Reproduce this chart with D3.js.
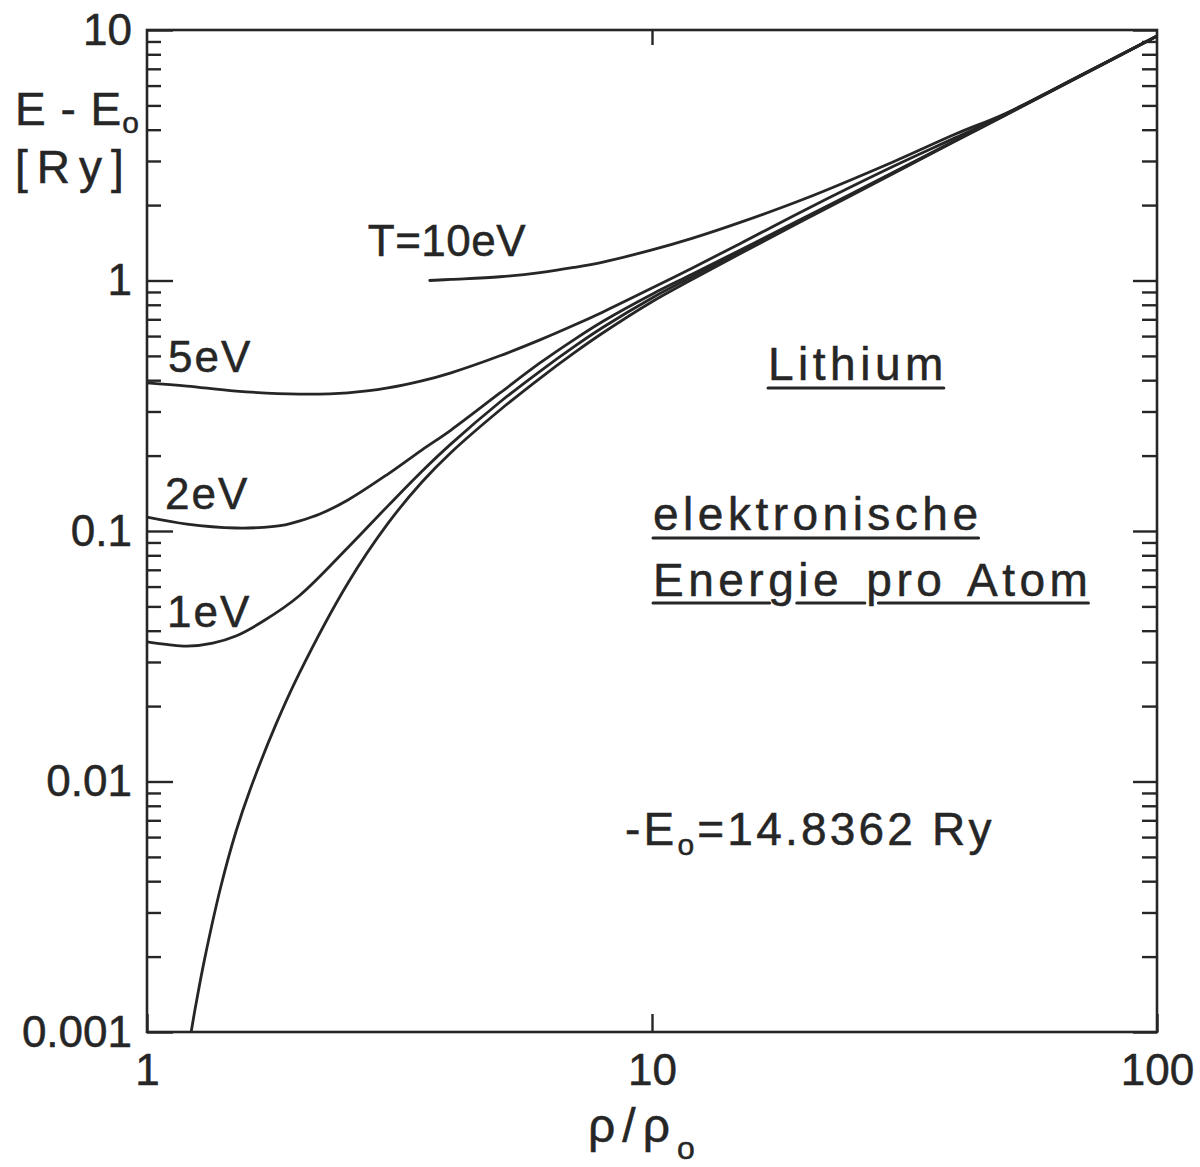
<!DOCTYPE html>
<html>
<head>
<meta charset="utf-8">
<script src="https://cdn.jsdelivr.net/npm/d3@7"></script>
<style>
  html, body { margin: 0; padding: 0; background: #ffffff; }
  svg { display: block; }
  text { font-family: "Liberation Sans", Arial, sans-serif; fill: #262626; stroke: #262626; stroke-width: 0.5px; }
</style>
</head>
<body>
<svg id="chart" width="1200" height="1167"></svg>
<script>
// Electronic energy per atom of lithium, E − E0 in Ry, versus compression ρ/ρ0
const rhoT0    = [1.223, 1.25, 1.3, 1.4, 1.5, 1.6, 1.8, 2, 2.5, 3, 3.5, 4, 5, 6, 7, 8, 10, 12, 15, 20, 30, 40, 50, 70, 100];
const energyT0 = [0.001, 0.00129, 0.00195, 0.0038, 0.0063, 0.00927, 0.0169, 0.0269, 0.062, 0.1072, 0.1565, 0.2058, 0.3041, 0.4071, 0.5129, 0.6184, 0.8228, 1.009, 1.285, 1.742, 2.667, 3.609, 4.56, 6.492, 9.44];

const rho1eV    = [1, 1.1, 1.2, 1.35, 1.5, 1.7, 2, 2.5, 3, 3.5, 4, 5, 6, 7, 8, 10, 12, 15, 20, 30, 40, 50, 70, 100];
const energy1eV = [0.0361, 0.0352, 0.0347, 0.0357, 0.0381, 0.0437, 0.055, 0.0859, 0.126, 0.1729, 0.2228, 0.3273, 0.4342, 0.5434, 0.6507, 0.8518, 1.035, 1.308, 1.762, 2.685, 3.626, 4.576, 6.507, 9.45];

const rho2eV    = [1, 1.2, 1.5, 1.7, 1.85, 2, 2.2, 2.5, 3, 3.5, 4, 5, 6, 7, 8, 10, 12, 15, 20, 30, 40, 50, 70, 100];
const energy2eV = [0.1137, 0.1066, 0.1028, 0.1034, 0.1052, 0.1095, 0.1169, 0.133, 0.1688, 0.2105, 0.253, 0.3556, 0.4685, 0.5797, 0.6876, 0.8817, 1.059, 1.327, 1.779, 2.698, 3.634, 4.581, 6.515, 9.46];

const rho5eV    = [1, 1.2, 1.5, 2, 2.5, 3, 3.5, 4, 5, 6, 7, 8, 10, 12, 15, 20, 30, 40, 50, 70, 100];
const energy5eV = [0.39, 0.379, 0.362, 0.352, 0.356, 0.3725, 0.3973, 0.4281, 0.5006, 0.5793, 0.6625, 0.7493, 0.933, 1.12, 1.409, 1.905, 2.851, 3.727, 4.603, 6.522, 9.462];

const rho10eV    = [3.63, 4, 5, 6, 7, 8, 10, 12, 15, 20, 30, 40, 50, 70, 100];
const energy10eV = [1.0, 1.01, 1.035, 1.075, 1.127, 1.185, 1.325, 1.473, 1.71, 2.115, 2.974, 3.853, 4.634, 6.537, 9.473];

const curveNames = ["T=10eV", "5eV", "2eV", "1eV", "T=0"];

const yMajorTicks = [0.001, 0.01, 0.1, 1, 10];
const yTickLabels = ["0.001", "0.01", "0.1", "1", "10"];
const xMajorTicks = [1, 10, 100];
const xTickLabels = ["1", "10", "100"];

const ink = "#262626";
const W = 1200, H = 1167;
const margin = { top: 30, right: 43, bottom: 135, left: 147 };
const plotW = W - margin.left - margin.right;
const plotH = H - margin.top - margin.bottom;

const svg = d3.select("#chart");
const g = svg.append("g").attr("transform", `translate(${margin.left},${margin.top})`);

const x = d3.scaleLog().domain([1, 100]).range([0, plotW]);
const y = d3.scaleLog().domain([0.001, 10]).range([plotH, 0]);

const isMajor = v => Math.abs(Math.log10(v) - Math.round(Math.log10(v))) < 1e-6;
const yMinorTicks = y.ticks().filter(v => !isMajor(v));

function styleAxis(sel) {
  sel.select(".domain").remove();
  sel.selectAll(".tick line").attr("stroke", ink).attr("stroke-width", 2.4);
  sel.selectAll(".tick text")
    .style("font-family", '"Liberation Sans", Arial, sans-serif')
    .style("font-size", "44px")
    .attr("fill", ink);
}

// left axis: long ticks with labels at decades, short ticks in between
g.append("g")
  .call(d3.axisLeft(y).tickValues(yMajorTicks).tickSize(-26).tickPadding(15)
        .tickFormat((d, i) => yTickLabels[i]))
  .call(styleAxis);
g.append("g")
  .call(d3.axisLeft(y).tickValues(yMinorTicks).tickSize(-14).tickFormat(""))
  .call(styleAxis);

// right axis mirrors the ticks inward
g.append("g").attr("transform", `translate(${plotW},0)`)
  .call(d3.axisRight(y).tickValues(yMajorTicks).tickSize(-24).tickFormat(""))
  .call(styleAxis);
g.append("g").attr("transform", `translate(${plotW},0)`)
  .call(d3.axisRight(y).tickValues(yMinorTicks).tickSize(-15).tickFormat(""))
  .call(styleAxis);

// bottom and top axes: decade ticks only
g.append("g").attr("transform", `translate(0,${plotH})`)
  .call(d3.axisBottom(x).tickValues(xMajorTicks).tickSize(-18).tickPadding(22)
        .tickFormat((d, i) => xTickLabels[i]))
  .call(styleAxis);
g.append("g")
  .call(d3.axisTop(x).tickValues([10]).tickSize(-15).tickFormat(""))
  .call(styleAxis);

// frame
g.append("rect")
  .attr("x", 0).attr("y", 0).attr("width", plotW).attr("height", plotH)
  .attr("fill", "none").attr("stroke", ink).attr("stroke-width", 2.6);

// curves
g.append("clipPath").attr("id", "plot-clip")
  .append("rect").attr("width", plotW).attr("height", plotH);

const series = [
  { name: curveNames[0], rho: rho10eV, e: energy10eV },
  { name: curveNames[1], rho: rho5eV,  e: energy5eV },
  { name: curveNames[2], rho: rho2eV,  e: energy2eV },
  { name: curveNames[3], rho: rho1eV,  e: energy1eV },
  { name: curveNames[4], rho: rhoT0,   e: energyT0 }
];

const line = d3.line()
  .x(d => x(d[0]))
  .y(d => y(d[1]))
  .curve(d3.curveCatmullRom.alpha(0.5));

g.append("g").attr("clip-path", "url(#plot-clip)")
  .selectAll("path")
  .data(series)
  .join("path")
  .attr("d", s => line(s.rho.map((r, i) => [r, s.e[i]])))
  .attr("fill", "none")
  .attr("stroke", ink)
  .attr("stroke-width", 2.8)
  .attr("stroke-linecap", "round")
  .attr("stroke-linejoin", "round");

// curve labels
const curveLabel = (txt, lx, ly, spacing) =>
  g.append("text").attr("x", lx).attr("y", ly)
    .style("font-size", "44px").style("letter-spacing", spacing).text(txt);

curveLabel(curveNames[0], x(rho10eV[0]) - 62, y(energy10eV[0]) - 25, "0.5px");
curveLabel(curveNames[1], x(1) + 21, y(energy5eV[0]) - 11, "2px");
curveLabel(curveNames[2], x(1) + 18, y(energy2eV[0]) - 8, "2px");
curveLabel(curveNames[3], x(1) + 20, y(energy1eV[0]) - 15, "2px");

// axis titles
const yTitle = svg.append("text").attr("x", 15).attr("y", 125)
  .style("font-size", "46px").style("letter-spacing", "1px");
yTitle.append("tspan").text("E - E");
yTitle.append("tspan").attr("dy", 8).style("font-size", "30px").text("o");
svg.append("text").attr("x", 15).attr("y", 183)
  .style("font-size", "46px").style("letter-spacing", "9px").text("[Ry]");

const xTitle = svg.append("text").attr("x", 588).attr("y", 1142)
  .style("font-size", "48px").style("letter-spacing", "7px");
xTitle.append("tspan").text("ρ/ρ");
xTitle.append("tspan").attr("dy", 17).style("font-size", "32px").text("o");

// annotations, underlined with breaks where descenders cross
function underline(node, offset, gaps) {
  const n = node.getNumberOfChars();
  const a = node.getExtentOfChar(0), b = node.getExtentOfChar(n - 1);
  const base = +node.getAttribute("y") + offset;
  let segs = [[a.x, b.x + b.width - 4]];
  gaps.forEach(([i, f0, f1]) => {
    const e = node.getExtentOfChar(i);
    const g0 = e.x + f0 * e.width, g1 = e.x + f1 * e.width;
    segs = segs.flatMap(s => (s[1] <= g0 || s[0] >= g1) ? [s]
      : [[s[0], g0], [g1, s[1]]].filter(t => t[1] - t[0] > 2));
  });
  const parent = d3.select(node.parentNode);
  segs.forEach(s => parent.append("line")
    .attr("x1", s[0]).attr("x2", s[1]).attr("y1", base).attr("y2", base)
    .attr("stroke", ink).attr("stroke-width", 3).attr("stroke-linecap", "round"));
}

const note = (txt, tx, ty) => svg.append("text").attr("x", tx).attr("y", ty)
  .style("font-size", "46px").style("letter-spacing", "4.5px")
  .style("word-spacing", "6px").text(txt);

underline(note("Lithium", 768, 380).node(), 8, []);
underline(note("elektronische", 653, 530).node(), 8, []);
underline(note("Energie pro Atom", 653, 596).node(), 7, [[4, 0.05, 0.95], [8, -0.05, 0.4]]);

const e0 = svg.append("text").attr("x", 625).attr("y", 845)
  .style("font-size", "46px").style("letter-spacing", "3.2px");
e0.append("tspan").text("-E");
e0.append("tspan").attr("dy", 10).style("font-size", "30px").text("o");
e0.append("tspan").attr("dy", -10).text("=14.8362 Ry");
</script>
</body>
</html>
